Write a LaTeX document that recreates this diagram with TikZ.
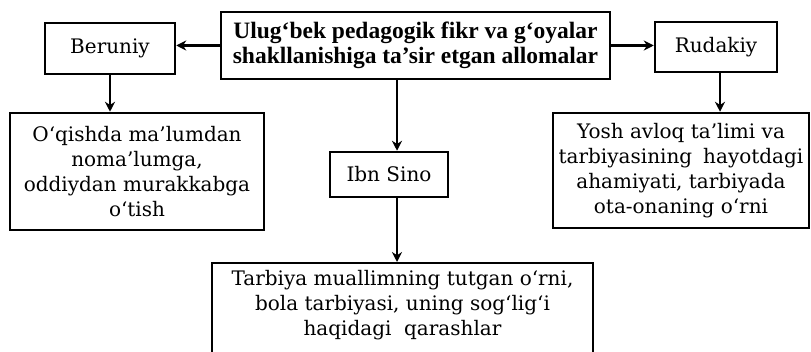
\documentclass[tikz,border=0pt]{standalone}
\usepackage{fontspec}
\setmainfont{DejaVu Serif}
\newfontfamily\topfont{Liberation Serif}
\usetikzlibrary{arrows.meta}
\begin{document}
\begin{tikzpicture}[x=1pt,y=-1pt,
  box/.style={draw, line width=2.5pt, align=center, inner sep=2pt,
    font=\fontsize{20}{25}\selectfont},
  headbox/.style={box, font=\topfont\bfseries\fontsize{23.5}{25}\selectfont},
  arr/.style={line width=2.5pt, -{Stealth[length=10pt,width=10pt]}}]
\useasboundingbox (0,0) rectangle (811,352);
\clip (0,0) rectangle (811,352);

\node[headbox, minimum width=389pt, minimum height=67pt] (top) at (415.5,45.5)
  {Ulug‘bek pedagogik fikr va g‘oyalar\\shakllanishiga ta’sir etgan allomalar};
\node[box, minimum width=130pt, minimum height=51pt] (ber) at (110,48.5) {Beruniy};
\node[box, minimum width=122pt, minimum height=50pt] (rud) at (716,47) {Rudakiy};
\node[box, minimum width=254pt, minimum height=117pt] (lft) at (137,171.5)
  {O‘qishda ma’lumdan\\noma’lumga,\\oddiydan murakkabga\\o‘tish};
\node[box, minimum width=256pt, minimum height=115pt] (rgt) at (681,170.5)
  {Yosh avloq ta’limi va\\tarbiyasining\hspace{0.55em}hayotdagi\\ahamiyati, tarbiyada\\ota-onaning o‘rni};
\node[box, minimum width=118pt, minimum height=45pt] (ibn) at (389,174.5) {Ibn Sino};
\node[box, anchor=north, inner sep=0pt, minimum width=381pt] (bot) at (402.5,262)
  {\begin{minipage}[t][120pt][t]{370pt}\centering
   \rule{0pt}{22pt}Tarbiya muallimning tutgan o‘rni,\\
   bola tarbiyasi, uning sog‘lig‘i\\
   haqidagi\ \ qarashlar\end{minipage}};

\draw[arr] (top.west) -- (top.west -| ber.east);
\draw[arr] (top.east) -- (top.east -| rud.west);
\draw[arr] (ber.south) -- (ber.south |- lft.north);
\draw[arr] ([xshift=4pt]rud.south) -- ([xshift=4pt]rud.south |- rgt.north);
\draw[arr] ([xshift=-18.5pt]top.south) -- ([xshift=-18.5pt]top.south |- ibn.north);
\draw[arr] ([xshift=8pt]ibn.south) -- ([xshift=8pt]ibn.south |- bot.north);
\end{tikzpicture}
\end{document}
